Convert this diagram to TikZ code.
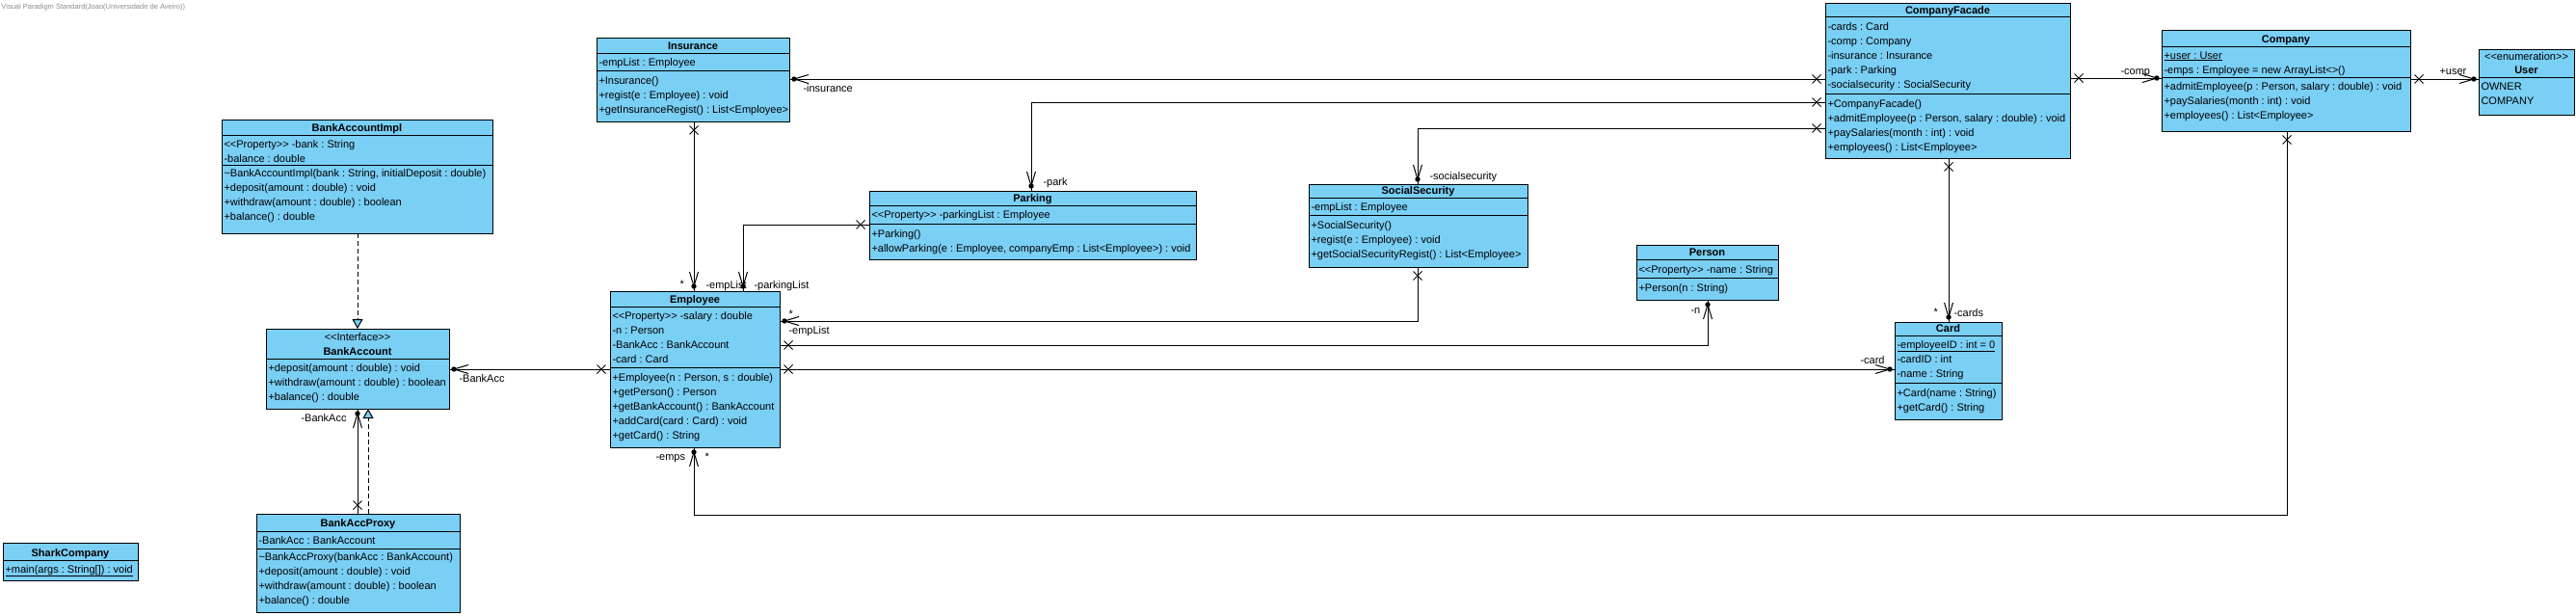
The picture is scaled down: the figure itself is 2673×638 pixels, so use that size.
\documentclass[tikz,border=0pt]{standalone}
\usepackage{fontspec}
\usepackage{tikz}
\usetikzlibrary{arrows.meta}
\usetikzlibrary{decorations.markings}
\newfontfamily\vpfont{Liberation Sans}
\definecolor{vpblue}{RGB}{122,207,245}
\definecolor{vpgray}{RGB}{140,140,140}
% class frame: name, left, top, width, height
\newcommand{\classframe}[5]{\node[classbox,minimum width=#4pt,minimum height=#5pt] (#1) at (#2,#3) {};}
% compartment line: frame, y
\newcommand{\classsep}[2]{\draw[sepline] (#1.west |- 0,#2) -- (#1.east |- 0,#2);}
% member rows: prefix, x, first baseline, list
\newcommand{\classrows}[4]{\foreach \mrow [count=\k] in {#4} \node[row] (#1\k) at (#2,{#3+15*(\k-1)}) {\mrow};}

\begin{document}
\frenchspacing
\begin{tikzpicture}[x=1pt,y=-1pt,line width=1pt,
    classbox/.style={draw=black,fill=vpblue,anchor=north west,inner sep=0pt,outer sep=0pt},
    sepline/.style={draw=black},
    row/.style={anchor=base west,inner sep=0pt,font=\vpfont\fontsize{11}{15}\selectfont},
    ctitle/.style={anchor=base,inner sep=0pt,font=\vpfont\bfseries\fontsize{11}{15}\selectfont},
    stereo/.style={anchor=base,inner sep=0pt,font=\vpfont\fontsize{11}{15}\selectfont},
    header/.style={anchor=base west,inner sep=0pt,text=vpgray,font=\vpfont\fontsize{7.5}{9}\selectfont},
    assoc/.style={draw=black,postaction={decorate,decoration={markings,
        mark=at position 9pt with {\draw (-4.5,-4.5) -- (4.5,4.5) (-4.5,4.5) -- (4.5,-4.5);},
        mark=at position -5pt with {\fill (0,0) circle[radius=2.7pt]; \draw (-15,-4.5) -- (0,0) -- (-15,4.5);}}}},
    realize/.style={draw=black,dash pattern=on 5pt off 3pt,-{Triangle[length=10pt,width=11pt,fill=vpblue]}}]
  \path[use as bounding box,fill=white] (0,0) rectangle (2673,638);
  \node[header] (vp) at (1,9) {Visual Paradigm Standard(Joao(Universidade de Aveiro))};

  % BankAccountImpl
  \classframe{impl}{230}{124}{281}{118}
  \node[ctitle] (impl-t) at (impl.north |- 0,136) {BankAccountImpl};
  \classsep{impl}{140} \classsep{impl}{171}
  \classrows{impl-a}{232}{153}{{<<Property>> -bank : String},{-balance : double}}
  \classrows{impl-o}{232}{183}{{\textasciitilde BankAccountImpl(bank : String, initialDeposit : double)},{+deposit(amount : double) : void},{+withdraw(amount : double) : boolean},{+balance() : double}}

  % BankAccount
  \classframe{bacc}{276}{341}{190}{83}
  \node[stereo] (bacc-s) at (bacc.north |- 0,353) {<<Interface>>};
  \node[ctitle] (bacc-t) at (bacc.north |- 0,368) {BankAccount};
  \classsep{bacc}{372}
  \classrows{bacc-o}{278}{385}{{+deposit(amount : double) : void},{+withdraw(amount : double) : boolean},{+balance() : double}}

  % BankAccProxy
  \classframe{proxy}{266}{533}{211}{102}
  \node[ctitle] (proxy-t) at (proxy.north |- 0,546) {BankAccProxy};
  \classsep{proxy}{551} \classsep{proxy}{569}
  \classrows{proxy-a}{268}{564}{{-BankAcc : BankAccount}}
  \classrows{proxy-o}{268}{581}{{\textasciitilde BankAccProxy(bankAcc : BankAccount)},{+deposit(amount : double) : void},{+withdraw(amount : double) : boolean},{+balance() : double}}

  % SharkCompany
  \classframe{shark}{3}{563}{140}{39}
  \node[ctitle] (shark-t) at (shark.north |- 0,577) {SharkCompany};
  \classsep{shark}{581}
  \classrows{shark-o}{5}{594}{{\underline{+main(args : String[]) : void}}}

  % Insurance
  \classframe{ins}{619}{39}{200}{87}
  \node[ctitle] (ins-t) at (ins.north |- 0,51) {Insurance};
  \classsep{ins}{55} \classsep{ins}{73}
  \classrows{ins-a}{621}{68}{{-empList : Employee}}
  \classrows{ins-o}{621}{87}{{+Insurance()},{+regist(e : Employee) : void},{+getInsuranceRegist() : List<Employee>}}

  % Employee
  \classframe{emp}{633}{302}{176}{162}
  \node[ctitle] (emp-t) at (emp.north |- 0,314) {Employee};
  \classsep{emp}{318} \classsep{emp}{381}
  \classrows{emp-a}{635}{331}{{<<Property>> -salary : double},{-n : Person},{-BankAcc : BankAccount},{-card : Card}}
  \classrows{emp-o}{635}{395}{{+Employee(n : Person, s : double)},{+getPerson() : Person},{+getBankAccount() : BankAccount},{+addCard(card : Card) : void},{+getCard() : String}}

  % Parking
  \classframe{park}{902}{198}{339}{71}
  \node[ctitle] (park-t) at (park.north |- 0,209) {Parking};
  \classsep{park}{213} \classsep{park}{232}
  \classrows{park-a}{904}{226}{{<<Property>> -parkingList : Employee}}
  \classrows{park-o}{904}{246}{{+Parking()},{+allowParking(e : Employee, companyEmp : List<Employee>) : void}}

  % SocialSecurity
  \classframe{soc}{1358}{191}{227}{86}
  \node[ctitle] (soc-t) at (soc.north |- 0,201) {SocialSecurity};
  \classsep{soc}{205} \classsep{soc}{223}
  \classrows{soc-a}{1360}{218}{{-empList : Employee}}
  \classrows{soc-o}{1360}{237}{{+SocialSecurity()},{+regist(e : Employee) : void},{+getSocialSecurityRegist() : List<Employee>}}

  % Person
  \classframe{pers}{1698}{254}{147}{57}
  \node[ctitle] (pers-t) at (pers.north |- 0,265) {Person};
  \classsep{pers}{269} \classsep{pers}{288}
  \classrows{pers-a}{1700}{283}{{<<Property>> -name : String}}
  \classrows{pers-o}{1700}{302}{{+Person(n : String)}}

  % CompanyFacade
  \classframe{fac}{1894}{3}{254}{161}
  \node[ctitle] (fac-t) at (fac.north |- 0,14) {CompanyFacade};
  \classsep{fac}{17} \classsep{fac}{97}
  \classrows{fac-a}{1896}{31}{{-cards : Card},{-comp : Company},{-insurance : Insurance},{-park : Parking},{-socialsecurity : SocialSecurity}}
  \classrows{fac-o}{1896}{111}{{+CompanyFacade()},{+admitEmployee(p : Person, salary : double) : void},{+paySalaries(month : int) : void},{+employees() : List<Employee>}}

  % Card
  \classframe{card}{1966}{334}{111}{101}
  \node[ctitle] (card-t) at (card.north |- 0,344) {Card};
  \classsep{card}{348} \classsep{card}{397}
  \classrows{card-a}{1968}{361}{{\underline{-employeeID : int = 0}},{-cardID : int},{-name : String}}
  \classrows{card-o}{1968}{411}{{+Card(name : String)},{+getCard() : String}}

  % Company
  \classframe{comp}{2243}{31}{258}{105}
  \node[ctitle] (comp-t) at (comp.north |- 0,44) {Company};
  \classsep{comp}{48} \classsep{comp}{80}
  \classrows{comp-a}{2245}{61}{{\underline{+user : User}},{-emps : Employee = new ArrayList<>()}}
  \classrows{comp-o}{2245}{93}{{+admitEmployee(p : Person, salary : double) : void},{+paySalaries(month : int) : void},{+employees() : List<Employee>}}

  % User
  \classframe{user}{2572}{51}{99}{68}
  \node[stereo] (user-s) at (user.north |- 0,62) {<<enumeration>>};
  \node[ctitle] (user-t) at (user.north |- 0,76) {User};
  \classsep{user}{80}
  \classrows{user-a}{2574}{93}{{OWNER},{COMPANY}}

  % associations
  \draw[assoc] (fac.west |- 0,82) -- (ins.east |- 0,82);
  \draw[assoc] (fac.west |- 0,106) -| (park.north -| 1070,0);
  \draw[assoc] (fac.west |- 0,133) -| (soc.north -| 1471,0);
  \draw[assoc] (fac.east |- 0,81) -- (comp.west |- 0,81);
  \draw[assoc] (comp.east |- 0,82) -- (user.west |- 0,82);
  \draw[assoc] (fac.south -| 2022,0) -- (card.north -| 2022,0);
  \draw[assoc] (comp.south -| 2373,0) -- ++(0,398) -| (emp.south -| 720,0);
  \draw[assoc] (ins.south -| 720,0) -- (emp.north -| 720,0);
  \draw[assoc] (park.west |- 0,233) -| (emp.north -| 771,0);
  \draw[assoc] (soc.south -| 1471,0) |- (emp.east |- 0,333);
  \draw[assoc] (emp.west |- 0,383) -- (bacc.east |- 0,383);
  \draw[assoc] (emp.east |- 0,358) -| (pers.south -| 1772,0);
  \draw[assoc] (emp.east |- 0,383) -- (card.west |- 0,383);
  \draw[assoc] (proxy.north -| 371,0) -- (bacc.south -| 371,0);
  % realizations
  \draw[realize] (impl.south -| 371,0) -- (bacc.north -| 371,0);
  \draw[realize] (proxy.north -| 382,0) -- (bacc.south -| 382,0);

  % role names
  \node[row] (l-ins) at (833,95) {-insurance};
  \node[row] (l-park) at (1082,192) {-park};
  \node[row] (l-soc) at (1483,186) {-socialsecurity};
  \node[row] (l-m1) at (705,298) {*};
  \node[row] (l-emp1) at (732,299) {-empList};
  \node[row] (l-plist) at (782,299) {-parkingList};
  \node[row] (l-m2) at (818,329) {*};
  \node[row] (l-emp2) at (818,346) {-empList};
  \node[row] (l-emps) at (680,477) {-emps};
  \node[row] (l-m3) at (731,477) {*};
  \node[row] (l-ba1) at (476,396) {-BankAcc};
  \node[row] (l-ba2) at (312,437) {-BankAcc};
  \node[row] (l-n) at (1754,325) {-n};
  \node[row] (l-card) at (1930,377) {-card};
  \node[row] (l-m4) at (2006,327) {*};
  \node[row] (l-cards) at (2027,328) {-cards};
  \node[row] (l-comp) at (2200,77) {-comp};
  \node[row] (l-user) at (2531,77) {+user};
\end{tikzpicture}
\end{document}
